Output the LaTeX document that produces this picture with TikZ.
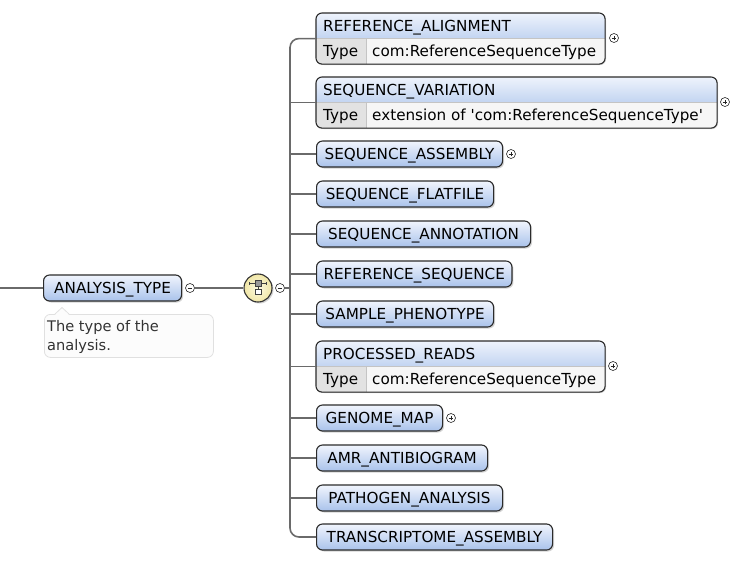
\documentclass[tikz,border=0pt]{standalone}
\usepackage{fontspec}
\setmainfont{DejaVu Sans}
\usetikzlibrary{shadows,calc}

\definecolor{boxline}{HTML}{2B2B2B}
\definecolor{boxtop}{HTML}{F1F5FD}
\definecolor{boxbot}{HTML}{A9C2EB}
\definecolor{headtop}{HTML}{EEF3FC}
\definecolor{headbot}{HTML}{C2D4F1}
\definecolor{typekey}{HTML}{E2E2E2}
\definecolor{typeval}{HTML}{F6F6F6}
\definecolor{cellline}{HTML}{C4C4C4}
\definecolor{wire}{HTML}{6A6A6A}
\definecolor{descline}{HTML}{E0E0E0}
\definecolor{seqin}{HTML}{FDFAE2}
\definecolor{seqout}{HTML}{F0E6A6}

\tikzset{
  lbl/.style={font=\fontsize{15.2}{18}\selectfont, text=black, inner sep=0pt,
    text height=11pt, text depth=0pt},
  elembox/.style={lbl, draw=boxline, line width=1.1pt, rounded corners=6pt,
    top color=boxtop, bottom color=boxbot, minimum height=26pt, inner xsep=7pt,
    drop shadow={shadow xshift=1.5pt, shadow yshift=-1.5pt, opacity=0.35}},
  typedbox/.style={draw=boxline, line width=1.1pt, fill=white, rounded corners=6pt,
    minimum height=50pt, inner sep=0pt,
    drop shadow={shadow xshift=1.5pt, shadow yshift=-1.5pt, opacity=0.35}},
  wire/.style={draw=wire, line width=1.6pt},
  expander/.style={circle, draw=black!85, fill=white, line width=0.6pt, minimum size=9pt, inner sep=0pt},
  plusmark/.style={expander, path picture={
      \draw[line width=0.6pt] ([xshift=-2.3pt]path picture bounding box.center) -- ([xshift=2.3pt]path picture bounding box.center)
        ([yshift=-2.3pt]path picture bounding box.center) -- ([yshift=2.3pt]path picture bounding box.center);}},
  minusmark/.style={expander, path picture={
      \draw[line width=0.6pt] ([xshift=-2.3pt]path picture bounding box.center) -- ([xshift=2.3pt]path picture bounding box.center);}},
  seqball/.style={circle, draw=black!80, line width=1.1pt, inner color=seqin, outer color=seqout,
    minimum size=28pt, inner sep=0pt,
    drop shadow={shadow xshift=1.5pt, shadow yshift=-1.5pt, opacity=0.35}},
  descbox/.style={draw=descline, fill=black!1, line width=0.8pt, rounded corners=6pt,
    minimum width=169pt, minimum height=43pt, inner sep=0pt},
}

% element with a type row: name, top, right edge, title, type
\newcommand{\typedbox}[5]{%
  \node[typedbox, minimum width={(#3-316)*1pt}, anchor=north west] (#1) at (316,#2) {};
  \begin{scope}
    \clip[rounded corners=6pt] (#1.north west) rectangle (#1.south east);
    \shade[top color=headtop, bottom color=headbot] (#1.north west) rectangle (#1.east);
    \fill[typekey] (#1.west) rectangle ([xshift=50pt]#1.south west);
    \fill[typeval] ([xshift=50pt]#1.west) rectangle (#1.south east);
  \end{scope}
  \draw[cellline, line width=0.8pt] (#1.west) -- (#1.east) ([xshift=50pt]#1.west) -- ([xshift=50pt]#1.south west);
  \draw[boxline, line width=1.1pt, rounded corners=6pt] (#1.north west) rectangle (#1.south east);
  \node[lbl, anchor=west] (#1-title) at ([xshift=7pt, yshift=12.5pt]#1.west) {#4};
  \node[lbl, anchor=west] (#1-key) at ([xshift=7pt, yshift=-12.5pt]#1.west) {Type};
  \node[lbl, anchor=west] (#1-type) at ([xshift=56pt, yshift=-12.5pt]#1.west) {#5};
}

\begin{document}
\begin{tikzpicture}[x=1pt, y=-1pt]
    \useasboundingbox (0,0) rectangle (744,563);

    % parent element and its documentation
    \node[elembox, anchor=west, minimum width=138pt] (at) at (43,288) {ANALYSIS\_TYPE};
    \node[minusmark] (atmin) at (190,288) {};
    \coordinate (in) at (0,288);
    \node[descbox, anchor=north west] (desc) at (44,314) {};
    \node[anchor=north west, align=left, text=black!80, inner sep=0pt,
      font=\fontsize{14.6}{19.5}\selectfont] (desctext) at (47,320) {The type of the\\analysis.};
    \fill[black!1] (55,314.8) -- (62,307.5) -- (69,314.8) -- cycle;
    \draw[descline, line width=0.8pt] (55,314) -- (62,307.5) -- (69,314);

    % sequence compositor
    \node[seqball] (seq) at (258,288) {};
    \begin{scope}[shift={(seq.center)}]
      \draw[black!75, line width=0.8pt] (-9,-4.5) -- (8,-4.5) (-9,-6) -- (-9,-3) (8,-6) -- (8,-3);
      \draw[black!75, fill=black!40, line width=0.8pt] (-3,-7.5) rectangle (3,-2);
      \draw[black!75, line width=0.8pt] (0,-2) -- (0,1);
      \draw[black!75, fill=white, line width=0.8pt] (-3,1) rectangle (3,6.5);
    \end{scope}
    \node[minusmark] (seqmin) at (280,288) {};
    \coordinate (bar) at (290,288);

    % child elements
    \typedbox{ra}{13}{604}{REFERENCE\_ALIGNMENT}{com:ReferenceSequenceType}
    \typedbox{sv}{77}{716}{SEQUENCE\_VARIATION}{extension of \textquotesingle com:ReferenceSequenceType\textquotesingle}
    \typedbox{pr}{341}{604}{PROCESSED\_READS}{com:ReferenceSequenceType}
    \foreach \nm/\ty/\rgt/\txt in {
        sa/154/502/SEQUENCE\_ASSEMBLY,
        sf/194/493/SEQUENCE\_FLATFILE,
        sn/234/530/SEQUENCE\_ANNOTATION,
        rs/274/508/REFERENCE\_SEQUENCE,
        sp/314/493/SAMPLE\_PHENOTYPE,
        gm/418/442/GENOME\_MAP,
        ab/458/487/AMR\_ANTIBIOGRAM,
        pa/498/502/PATHOGEN\_ANALYSIS,
        ta/537/552/TRANSCRIPTOME\_ASSEMBLY}
      \node[elembox, anchor=west, minimum width={(\rgt-316)*1pt}] (\nm) at (316,\ty) {\txt};

    % expanders
    \node[plusmark] (ra-x) at (614,38) {};
    \node[plusmark] (sv-x) at (725,102) {};
    \node[plusmark] (sa-x) at (511,154) {};
    \node[plusmark] (pr-x) at (613,366) {};
    \node[plusmark] (gm-x) at (451,418) {};

    % connectors
    \draw[wire] (in) -- (at.west);
    \draw[wire] (atmin.east) -- (seq.west);
    \draw[wire] (seqmin.east) -- (bar);
    \draw[wire, rounded corners=9pt] (ra.west) -| (bar) |- (ta.west);
    \foreach \nm in {sv,sa,sf,sn,rs,sp,pr,gm,ab,pa}
      \draw[wire] (bar |- \nm.west) -- (\nm.west);
\end{tikzpicture}
\end{document}
